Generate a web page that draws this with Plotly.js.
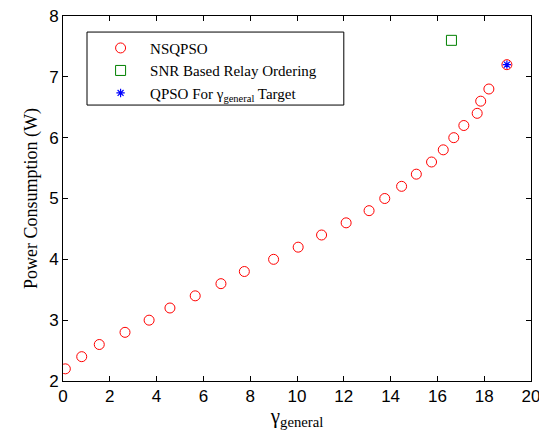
<!DOCTYPE html>
<html><head><meta charset="utf-8">
<script src="https://cdn.plot.ly/plotly-3.0.1.min.js"></script>
<style>body{margin:0;padding:0;background:#fff}#chart{width:539px;height:430px}</style>
</head><body><div id="chart"></div>
<script>
var nsqpsoX = [0.1, 0.8, 1.55, 2.65, 3.68, 4.57, 5.65, 6.75, 7.75, 9.0, 10.05, 11.05, 12.1, 13.08, 13.75, 14.47, 15.1, 15.75, 16.25, 16.7, 17.13, 17.7, 17.85, 18.2, 18.97];
var nsqpsoY = [2.2, 2.4, 2.6, 2.8, 3.0, 3.2, 3.4, 3.6, 3.8, 4.0, 4.2, 4.4, 4.6, 4.8, 5.0, 5.2, 5.4, 5.6, 5.8, 6.0, 6.2, 6.4, 6.6, 6.8, 7.2];
var snrX = [16.6];
var snrY = [7.6];
var qpsoX = [18.97];
var qpsoY = [7.2];
var xTicks = [0, 2, 4, 6, 8, 10, 12, 14, 16, 18, 20];
var yTicks = [2, 3, 4, 5, 6, 7, 8];

var traces = [
  {x: nsqpsoX, y: nsqpsoY, mode: 'markers', type: 'scatter', name: 'NSQPSO',
   marker: {symbol: 'circle-open', size: 10, color: '#ff0000', line: {width: 1}}},
  {x: snrX, y: snrY, mode: 'markers', type: 'scatter', name: 'SNR Based Relay Ordering',
   marker: {symbol: 'square-open', size: 10, color: '#008000', line: {width: 1}}},
  {x: qpsoX, y: qpsoY, mode: 'markers', type: 'scatter', name: 'QPSO For γ<sub>general</sub> Target',
   marker: {symbol: 'asterisk-open', size: 7, color: '#0000ff', line: {width: 1.2, color: '#0000ff'}}}
];
var axisCommon = {showline: true, linecolor: '#000', linewidth: 1, mirror: 'ticks', ticks: 'inside',
  ticklen: 5, tickcolor: '#000', tickwidth: 1, showgrid: false, zeroline: false, ticklabeloverflow: 'allow',
  tickfont: {family: 'Liberation Sans, Arial, sans-serif', size: 17, color: '#000'}};
var layout = {
  width: 539, height: 430,
  margin: {l: 63, r: 8, t: 16, b: 49},
  paper_bgcolor: '#fff', plot_bgcolor: '#fff',
  showlegend: true,
  xaxis: Object.assign({}, axisCommon, {range: [0, 20], tickvals: xTicks, ticktext: xTicks.map(String),
    title: {text: 'γ<sub>general</sub>', standoff: 2, font: {family: 'Liberation Serif, Times New Roman, serif', size: 21, color: '#000'}}}),
  yaxis: Object.assign({}, axisCommon, {range: [2, 8], tickvals: yTicks, ticktext: yTicks.map(String),
    title: {text: 'Power Consumption (W)', standoff: 6, font: {family: 'Liberation Serif, Times New Roman, serif', size: 18, color: '#000'}}}),
  shapes: [{type: 'rect', xref: 'paper', yref: 'paper', x0: 0.0513, x1: 0.600, y0: 0.756, y1: 0.956,
    line: {color: '#000', width: 1}, fillcolor: 'rgba(0,0,0,0)', layer: 'above'}],
  legend: {x: 0.06, y: 0.957, xanchor: 'left', yanchor: 'top', bgcolor: 'rgba(0,0,0,0)',
    borderwidth: 0, itemwidth: 49, tracegroupgap: 0,
    font: {family: 'Liberation Serif, Times New Roman, serif', size: 15, color: '#000'}}
};
Plotly.newPlot('chart', traces, layout, {displayModeBar: false, staticPlot: true});
</script></body></html>
